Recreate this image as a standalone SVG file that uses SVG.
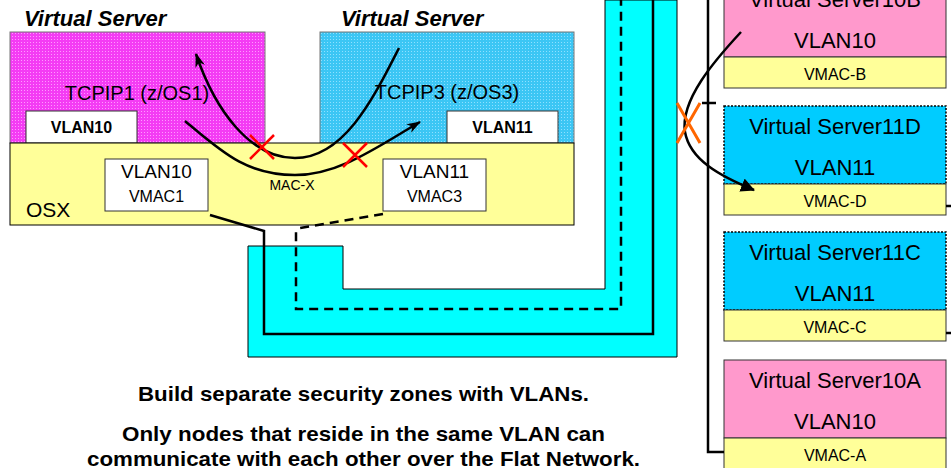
<svg xmlns="http://www.w3.org/2000/svg" width="951" height="468" viewBox="0 0 951 468">
<style>
text{font-family:"Liberation Sans",Arial,sans-serif;fill:#000}
.title{font-size:22px;font-weight:bold;font-style:italic}
.mid{text-anchor:middle}
.b16{font-size:16px;font-weight:bold}
.bot{font-size:21px;font-weight:bold}
.wbox{fill:#fff;stroke:#333;stroke-width:1}
.yel{fill:#ffff99;stroke:#333;stroke-width:1}
.pink{fill:#ff99cc;stroke:#333;stroke-width:1}
.blu{fill:#00ccff;stroke:#000;stroke-width:1.5;stroke-dasharray:2 1.5}
.n22{font-size:22px}
.n16{font-size:16px}
.ln{fill:none;stroke:#000;stroke-width:2.5}
.cx{stroke:#ff0000;stroke-width:2.5;fill:none}
</style>
<defs>
<pattern id="pm" width="3" height="3" patternUnits="userSpaceOnUse"><rect width="3" height="3" fill="#f43cf4"/><rect width="1" height="1" fill="#ff99ff"/></pattern>
<pattern id="pb" width="3" height="3" patternUnits="userSpaceOnUse"><rect width="3" height="3" fill="#3cc6f4"/><rect width="1" height="1" fill="#8fe0ff"/></pattern>
<marker id="ah" viewBox="0 0 14 10" refX="13" refY="5" markerWidth="14" markerHeight="10" markerUnits="userSpaceOnUse" orient="auto"><path d="M0,0 L14,5 L0,10 L4,5 Z" fill="#000"/></marker>
<marker id="tri" viewBox="0 0 14 14" refX="13" refY="7" markerWidth="14" markerHeight="14" markerUnits="userSpaceOnUse" orient="auto"><path d="M0,0 L14,7 L0,14 Z" fill="#000"/></marker>
</defs>
<rect width="951" height="468" fill="#fff"/>

<g id="flat-network">
<path d="M248,246 H343 V289 H605 V0 H677 V357 H248 Z" fill="#00ffff" stroke="#000" stroke-width="1"/>
</g>

<g id="vs-tcpip1">
<text class="title" x="24" y="26">Virtual Server</text>
<rect x="10" y="32" width="255" height="111" fill="url(#pm)" stroke="#777" stroke-width="1"/>
<text class="mid" x="137" y="100" font-size="20">TCPIP1 (z/OS1)</text>
<rect class="wbox" x="26" y="111" width="111" height="32"/>
<text class="mid b16" x="81.5" y="133">VLAN10</text>
</g>

<g id="vs-tcpip3">
<text class="title" x="341" y="26">Virtual Server</text>
<rect x="320" y="32" width="254" height="111" fill="url(#pb)" stroke="#777" stroke-width="1"/>
<text class="mid" x="447" y="99" font-size="20">TCPIP3 (z/OS3)</text>
<rect class="wbox" x="447" y="111" width="111" height="32"/>
<text class="mid b16" x="502.5" y="133">VLAN11</text>
</g>

<g id="osx">
<rect x="10" y="143" width="564" height="82" fill="#ffff99" stroke="#000" stroke-width="1"/>
<text x="26" y="217" font-size="21">OSX</text>
<text class="mid" x="292" y="190" font-size="14">MAC-X</text>
</g>

<g id="osx-vmac1">
<rect class="wbox" x="105" y="159" width="103" height="52"/>
<text class="mid" x="156.5" y="178" font-size="19">VLAN10</text>
<text class="mid n16" x="156.5" y="202">VMAC1</text>
</g>

<g id="osx-vmac3">
<rect class="wbox" x="383" y="159" width="103" height="52"/>
<text class="mid" x="434.5" y="178" font-size="19">VLAN11</text>
<text class="mid n16" x="434.5" y="202">VMAC3</text>
</g>

<g id="vs-10b">
<rect class="pink" x="724" y="-21" width="222" height="78"/>
<text class="mid n22" x="835" y="7">Virtual Server10B</text>
<text class="mid n22" x="835" y="48">VLAN10</text>
<rect class="yel" x="724" y="57" width="222" height="31"/>
<text class="mid n16" x="835" y="80">VMAC-B</text>
</g>

<g id="vs-11d">
<rect class="blu" x="724" y="106" width="222" height="78"/>
<text class="mid n22" x="835" y="134">Virtual Server11D</text>
<text class="mid n22" x="835" y="175">VLAN11</text>
<rect class="yel" x="724" y="184" width="222" height="31"/>
<text class="mid n16" x="835" y="207">VMAC-D</text>
</g>

<g id="vs-11c">
<rect class="blu" x="724" y="232" width="222" height="78"/>
<text class="mid n22" x="835" y="260">Virtual Server11C</text>
<text class="mid n22" x="835" y="301">VLAN11</text>
<rect class="yel" x="724" y="310" width="222" height="31"/>
<text class="mid n16" x="835" y="333">VMAC-C</text>
</g>

<g id="vs-10a">
<rect class="pink" x="724" y="360" width="222" height="78"/>
<text class="mid n22" x="835" y="388">Virtual Server10A</text>
<text class="mid n22" x="835" y="429">VLAN10</text>
<rect class="yel" x="724" y="438" width="222" height="31"/>
<text class="mid n16" x="835" y="461">VMAC-A</text>
</g>

<g id="connectors">
<path class="ln" d="M210,215 L264,231 V334 H653 V0"/>
<path class="ln" d="M383,214 L300,228 L296,232 V309 H621 V0" stroke-dasharray="9 6"/>
<path class="ln" d="M708,0 V452 H724"/>
<path class="ln" d="M702,103 H716"/>
<path class="ln" d="M946,206 H951"/>
<path class="ln" d="M946,333 H951"/>
<path class="ln" d="M399,48 C375,95 345,158 295,158 C250,158 215,110 196,54" marker-end="url(#ah)"/>
<path class="ln" d="M185,121 C220,150 245,175 295,175 C340,175 380,145 420,122" marker-end="url(#ah)"/>
<path class="ln" d="M741,32 C715,60 680,100 685,132 C690,160 720,176 754,190" stroke-width="2" marker-end="url(#tri)"/>
<path class="cx" d="M250,135 L274,159 M274,135 L250,159"/>
<path class="cx" d="M343,143 L367,167 M367,143 L343,167"/>
<path d="M677,103 L700,143 M700,103 L677,143" stroke="#ff6600" stroke-width="3" fill="none"/>
</g>

<g id="caption">
<text class="bot" x="138" y="401" textLength="451" lengthAdjust="spacingAndGlyphs">Build separate security zones with VLANs.</text>
<text class="bot" x="122" y="441" textLength="483" lengthAdjust="spacingAndGlyphs">Only nodes that reside in the same VLAN can</text>
<text class="bot" x="87" y="466" textLength="553" lengthAdjust="spacingAndGlyphs">communicate with each other over the Flat Network.</text>
</g>
</svg>
